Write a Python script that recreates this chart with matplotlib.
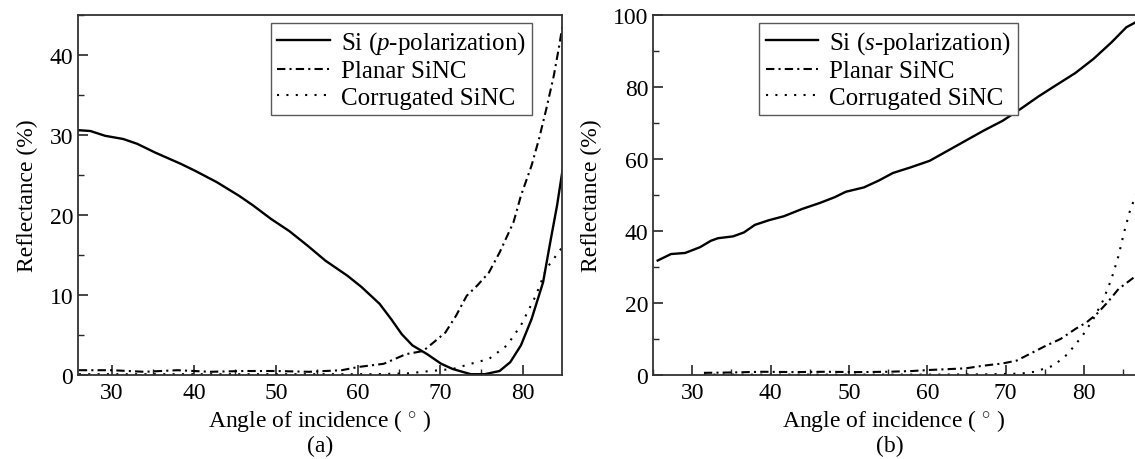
import matplotlib
matplotlib.use("Agg")
from matplotlib import pyplot as plt
from matplotlib.ticker import MultipleLocator

plt.rcParams['font.family'] = ['Liberation Serif', 'DejaVu Serif']
plt.rcParams['mathtext.fontset'] = 'custom'
plt.rcParams['mathtext.it'] = 'Liberation Serif:italic'
plt.rcParams['mathtext.rm'] = 'Liberation Serif'

# (a) p-polarization
a_si_x = [26, 27.4, 29.2, 31.4, 33.1, 35.3, 38.4, 40.2, 42.8, 45.5, 47.2, 49.4, 51.6,
          53.8, 56.0, 58.7, 60.4, 62.6, 64.0, 65.3, 66.6, 68.4, 70.1, 71.5, 73.7,
          75.4, 77.2, 78.5, 79.8, 81.1, 82.5, 83.3, 84.2, 85.0]
a_si_y = [30.6, 30.5, 29.9, 29.5, 28.9, 27.8, 26.4, 25.5, 24.1, 22.4, 21.2, 19.5, 18.0,
          16.2, 14.3, 12.4, 11.0, 8.9, 7.0, 5.1, 3.7, 2.6, 1.4, 0.75, 0.1,
          0.1, 0.5, 1.6, 3.7, 7.0, 11.6, 16.2, 21.2, 26.5]
a_pl_x = [26, 30, 34, 38, 42, 46, 50, 54, 58, 60, 63.1, 65.8, 67.9, 69.2, 70.6, 71.9,
          73.2, 74.5, 75.9, 77.2, 78.9, 79.8, 81.1, 82.0, 82.9, 83.8, 84.4, 85.0]
a_pl_y = [0.6, 0.6, 0.4, 0.6, 0.4, 0.5, 0.5, 0.4, 0.6, 1.0, 1.4, 2.6, 3.0, 4.1, 5.3, 7.4,
          9.9, 11.2, 12.8, 15.3, 19.1, 22.4, 26.2, 29.5, 33.3, 37.4, 40.8, 44.5]
a_co_x = [26, 35, 45, 55, 62, 66, 68.8, 71.5, 73.7, 75.9, 78.1, 79.8, 81.6, 82.9, 85.0]
a_co_y = [0.1, 0.1, 0.1, 0.1, 0.1, 0.2, 0.5, 0.75, 1.4, 2.0, 3.7, 6.2, 9.9, 13.3, 16.2]

# (b) s-polarization
b_si_x = [25.6, 27.3, 29.1, 31.0, 32.4, 33.3, 35.2, 36.6, 38.0, 39.8, 41.7, 44.0, 46.3,
          48.2, 49.6, 51.9, 53.8, 55.6, 57.9, 60.3, 62.6, 64.9, 67.2, 69.6, 71.9,
          74.2, 76.5, 78.9, 81.2, 83.5, 85.4, 86.6]
b_si_y = [31.8, 33.6, 33.9, 35.5, 37.3, 38.0, 38.5, 39.6, 41.7, 43.0, 44.1, 46.1, 47.8,
          49.4, 50.9, 52.1, 54.0, 56.1, 57.7, 59.5, 62.3, 65.1, 67.9, 70.6, 73.9,
          77.4, 80.6, 83.9, 87.8, 92.4, 96.6, 98.0]
b_pl_x = [31.5, 35, 39, 43, 47, 51, 55, 58, 60.3, 64.9, 67.2, 69.6, 71.4, 73.3, 75.1,
          77.0, 78.9, 80.3, 81.6, 83.0, 84.4, 86.6]
b_pl_y = [0.6, 0.7, 0.9, 0.8, 0.9, 0.8, 0.9, 1.1, 1.4, 1.85, 2.6, 3.2, 4.0, 6.1, 8.1,
          10.0, 12.8, 14.6, 16.9, 20.2, 23.9, 27.5]
b_co_x = [31.5, 40, 50, 60, 68, 72, 73.7, 76.1, 77.9, 79.8, 81.2, 82.4, 83.5, 84.4,
          85.1, 85.8, 86.6]
b_co_y = [0.1, 0.1, 0.1, 0.1, 0.2, 0.4, 0.9, 2.6, 5.8, 10.9, 15.6, 20.6, 26.7, 33.1,
          39.6, 45.2, 50.0]

fig = plt.figure(figsize=(11.35, 4.6), dpi=100)
ax1 = fig.add_axes([78 / 1135, 84 / 460, 484 / 1135, 360 / 460])
ax2 = fig.add_axes([653 / 1135, 84 / 460, 482 / 1135, 360 / 460])

dashdot = (4, 2, 1, 2)
dotted = (1, 3.5)


def style(ax, ylim, ymaj, ymin, xlim):
    ax.set_xlim(*xlim)
    ax.set_ylim(*ylim)
    ax.xaxis.set_major_locator(MultipleLocator(10))
    ax.xaxis.set_minor_locator(MultipleLocator(5))
    ax.yaxis.set_major_locator(MultipleLocator(ymaj))
    ax.yaxis.set_minor_locator(MultipleLocator(ymin))
    ax.tick_params(which='both', direction='in', labelsize=17, color='0.15')
    ax.tick_params(which='major', length=7, width=1.2)
    ax.tick_params(which='minor', length=4, width=1.0)
    ax.tick_params(axis='x', pad=5)
    for s in ax.spines.values():
        s.set_linewidth(1.3)
        s.set_color('0.2')
    ax.set_xlabel('Angle of incidence ( $^{\\circ}$ )', fontsize=17, labelpad=3)
    ax.set_ylabel('Reflectance (%)', fontsize=17, labelpad=8)


ax1.plot(a_si_x, a_si_y, color='black', lw=1.7, label='Si ($\\it{p}$-polarization)')
ax1.plot(a_pl_x, a_pl_y, color='black', lw=1.5, dashes=dashdot, label='Planar SiNC')
ax1.plot(a_co_x, a_co_y, color='black', lw=1.5, dashes=dotted, label='Corrugated SiNC')
style(ax1, (0, 45), 10, 5, (25.9, 84.8))

ax2.plot(b_si_x, b_si_y, color='black', lw=1.7, label='Si ($\\it{s}$-polarization)')
ax2.plot(b_pl_x, b_pl_y, color='black', lw=1.5, dashes=dashdot, label='Planar SiNC')
ax2.plot(b_co_x, b_co_y, color='black', lw=1.5, dashes=dotted, label='Corrugated SiNC')
style(ax2, (0, 100), 20, 10, (25.0, 86.5))
ax2.spines['right'].set_visible(False)

for ax, anchor in [(ax1, (0.938, 0.978)), (ax2, (0.757, 0.978))]:
    leg = ax.legend(loc='upper right', bbox_to_anchor=anchor, borderaxespad=0,
                    fontsize=18, fancybox=False, framealpha=1, edgecolor='0.35',
                    handlelength=2.1, handletextpad=0.45, labelspacing=0.15,
                    borderpad=0.25)
    leg.get_frame().set_linewidth(1.0)

fig.text((78 + 562) / 2 / 1135, 1 - 446 / 460, '(a)', ha='center', va='center', fontsize=17)
fig.text(890 / 1135, 1 - 446 / 460, '(b)', ha='center', va='center', fontsize=17)

fig.savefig('out.png', dpi=100)
